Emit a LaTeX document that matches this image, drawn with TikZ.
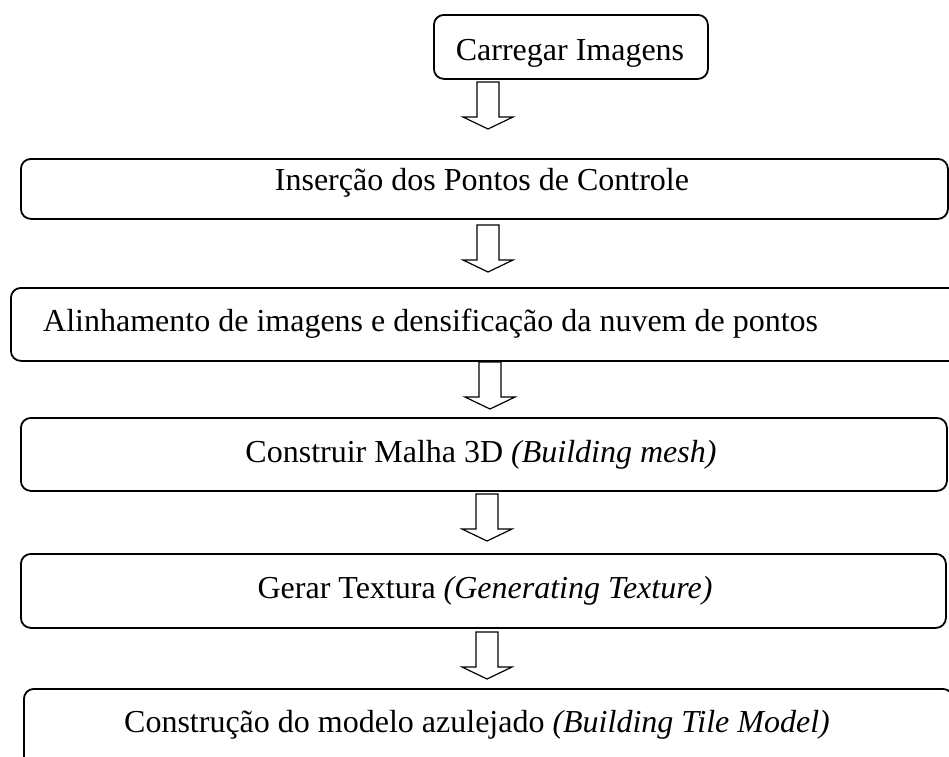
\documentclass[tikz,border=0pt]{standalone}
\usepackage{fontspec}
\setmainfont{Liberation Serif}
\begin{document}
\begin{tikzpicture}[x=1pt,y=-1pt,
  box/.style={draw=black, line width=1.8pt, rounded corners=10pt, inner sep=0pt, anchor=north west},
  lbl/.style={inner sep=0pt, anchor=base, font=\fontsize{32}{38}\selectfont},
  arrowline/.style={draw=black, line width=1.2pt, fill=white, line join=miter},
  downarrow/.pic={\draw[arrowline] (-11,0) -- (-11,35) -- (-25,35) -- (0,47) -- (25,35) -- (11,35) -- (11,0) -- cycle;}
]
\useasboundingbox (0,0) rectangle (949,756);
\clip (0,0) rectangle (949,756);
\fill[white] (0,0) rectangle (949,756);

% boxes
\node[box, minimum width=274pt, minimum height=64pt] (b1) at (433,14) {};
\node[box, minimum width=927pt, minimum height=60pt] (b2) at (20,158) {};
\node[box, minimum width=965pt, minimum height=73pt] (b3) at (10,287) {};
\node[box, minimum width=926pt, minimum height=73pt] (b4) at (20,417) {};
\node[box, minimum width=925pt, minimum height=74pt] (b5) at (20,553) {};
\node[box, minimum width=929pt, minimum height=92pt] (b6) at (23,688) {};

% labels
\node[lbl] (t1) at (570,60) {Carregar Imagens};
\node[lbl] (t2) at (482,190) {Inserção dos Pontos de Controle};
\node[lbl, anchor=base west] (t3) at (43,331) {Alinhamento de imagens e densificação da nuvem de pontos};
\node[lbl] (t4) at (481,462) {Construir Malha 3D \textit{(Building mesh)}};
\node[lbl] (t5) at (485,598) {Gerar Textura \textit{(Generating Texture)}};
\node[lbl] (t6) at (477,732) {Construção do modelo azulejado \textit{(Building Tile Model)}};

% block arrows
\coordinate (a1) at (488,82);
\coordinate (a2) at (488,225);
\coordinate (a3) at (490,362);
\coordinate (a4) at (487,494);
\coordinate (a5) at (487,632);
\pic at (a1) {downarrow};
\pic at (a2) {downarrow};
\pic at (a3) {downarrow};
\pic at (a4) {downarrow};
\pic at (a5) {downarrow};
\end{tikzpicture}
\end{document}
